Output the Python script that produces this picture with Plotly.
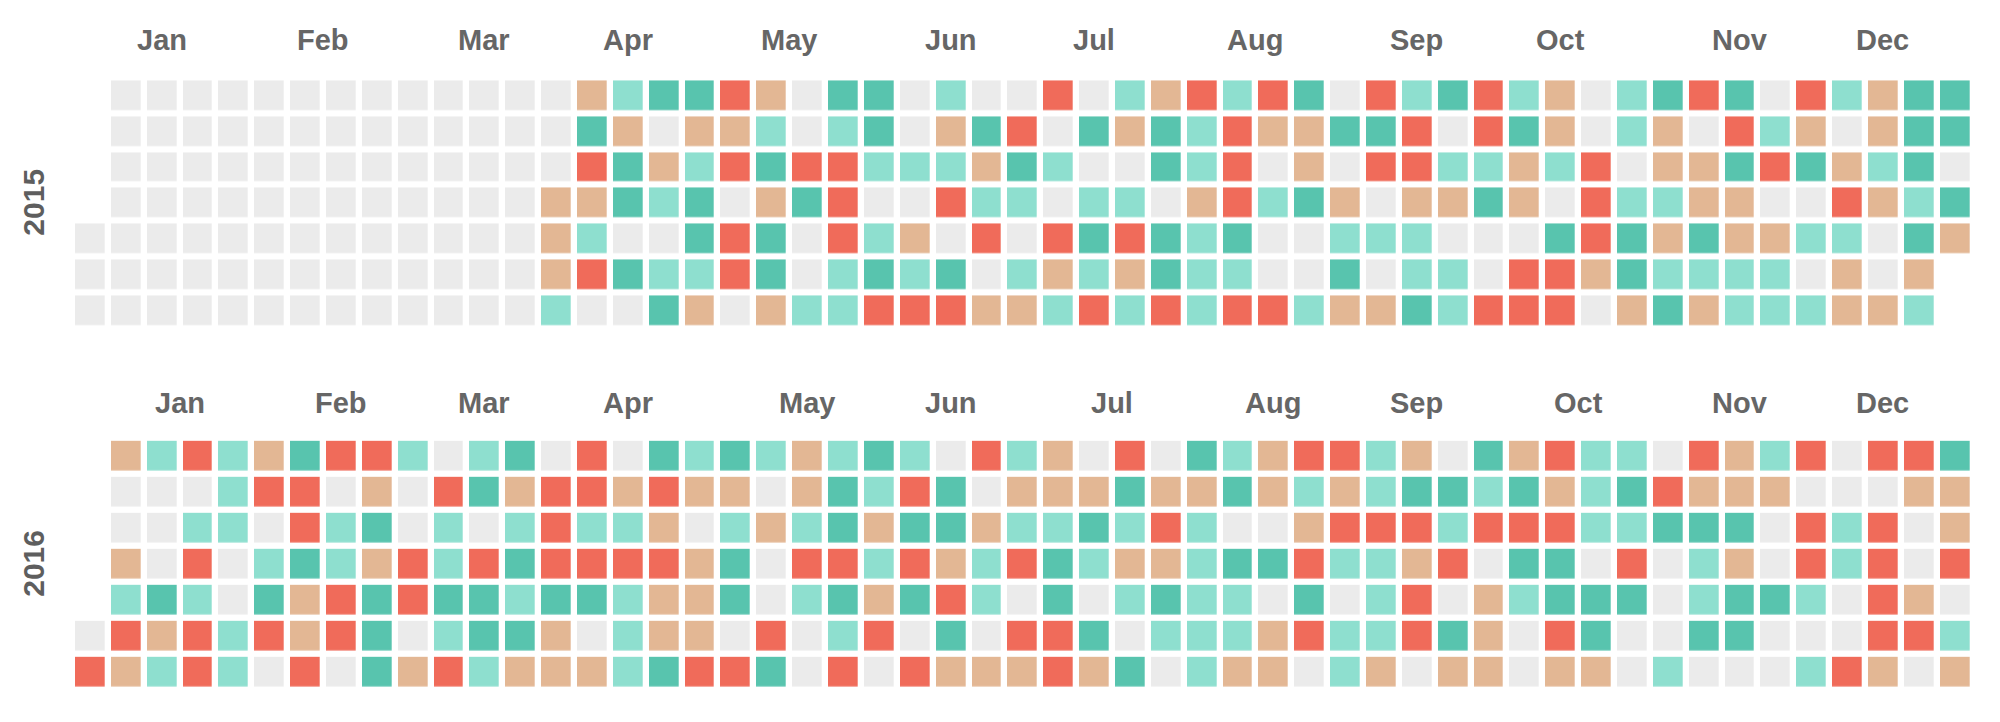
import plotly.graph_objects as go
import pandas as pd

# ---------------- DATA ----------------
# Level codes per day: 0 = grey (no value), 1 = tan, 2 = light teal, 3 = teal, 4 = red
# Each list is one weekday row (Sun..Sat) across the 53 week columns of the year.
N = None
years = [2015, 2016]
month_names = ["Jan", "Feb", "Mar", "Apr", "May", "Jun",
               "Jul", "Aug", "Sep", "Oct", "Nov", "Dec"]
level_colors = ["#ebebeb", "#e3b794", "#8edfcf", "#58c4ae", "#f06b5a"]

y2015_sun = [N] + [0]*11 + [0, 0, 1, 2, 3, 3, 4, 1, 0, 3, 3, 0, 2, 0] + \
    [0, 4, 0, 2, 1, 4, 2, 4, 3, 0, 4, 2, 3, 4] + [2, 1, 0, 2, 3, 4, 3, 0, 4, 2, 1, 3, 3]
y2015_mon = [N] + [0]*11 + [0, 0, 3, 1, 0, 1, 1, 2, 0, 2, 3, 0, 1, 3] + \
    [4, 0, 3, 1, 3, 2, 4, 1, 1, 3, 3, 4, 0, 4] + [3, 1, 0, 2, 1, 0, 4, 2, 1, 0, 1, 3, 3]
y2015_tue = [N] + [0]*11 + [0, 0, 4, 3, 1, 2, 4, 3, 4, 4, 2, 2, 2, 1] + \
    [3, 2, 0, 0, 3, 2, 4, 0, 1, 0, 4, 4, 2, 2] + [1, 2, 4, 0, 1, 1, 3, 4, 3, 1, 2, 3, 0]
y2015_wed = [N] + [0]*11 + [0, 1, 1, 3, 2, 3, 0, 1, 3, 4, 0, 0, 4, 2] + \
    [2, 0, 2, 2, 0, 1, 4, 2, 3, 1, 0, 1, 1, 3] + [1, 0, 4, 2, 2, 1, 1, 0, 0, 4, 1, 2, 3]
y2015_thu = [0]*12 + [0, 1, 2, 0, 0, 3, 4, 3, 0, 4, 2, 1, 0, 4] + \
    [0, 4, 3, 4, 3, 2, 3, 0, 0, 2, 2, 2, 0, 0] + [0, 3, 4, 3, 1, 3, 1, 1, 2, 2, 0, 3, 1]
y2015_fri = [0]*12 + [0, 1, 4, 3, 2, 2, 4, 3, 0, 2, 3, 2, 3, 0] + \
    [2, 1, 2, 1, 3, 2, 2, 0, 0, 3, 0, 2, 2, 0] + [4, 4, 1, 3, 2, 2, 2, 2, 0, 1, 0, 1, N]
y2015_sat = [0]*12 + [0, 2, 0, 0, 3, 1, 0, 1, 2, 2, 4, 4, 4, 1] + \
    [1, 2, 4, 2, 4, 2, 4, 4, 2, 1, 1, 3, 2, 4] + [4, 4, 0, 1, 3, 1, 2, 2, 2, 1, 1, 2, N]

y2016_sun = [N, 1, 2, 4, 2, 1, 3, 4, 4, 2, 0, 2, 3, 0] + [4, 0, 3, 2, 3, 2, 1, 2, 3, 2, 0, 4, 2] + \
    [1, 0, 4, 0, 3, 2, 1, 4, 4, 2, 1, 0, 3] + [1, 4, 2, 2, 0, 4, 1, 2, 4, 0, 4, 4, 3]
y2016_mon = [N, 0, 0, 0, 2, 4, 4, 0, 1, 0, 4, 3, 1, 4] + [4, 1, 4, 1, 1, 0, 1, 3, 2, 4, 3, 0, 1] + \
    [1, 1, 3, 1, 1, 3, 1, 2, 1, 2, 3, 3, 2] + [3, 1, 2, 3, 4, 1, 1, 1, 0, 0, 0, 1, 1]
y2016_tue = [N, 0, 0, 2, 2, 0, 4, 2, 3, 0, 2, 0, 2, 4] + [2, 2, 1, 0, 2, 1, 2, 3, 1, 3, 3, 1, 2] + \
    [2, 3, 2, 4, 2, 0, 0, 1, 4, 4, 4, 2, 4] + [4, 4, 2, 2, 3, 3, 3, 0, 4, 2, 4, 0, 1]
y2016_wed = [N, 1, 0, 4, 0, 2, 3, 2, 1, 4, 2, 4, 3, 4] + [4, 4, 4, 1, 3, 0, 4, 4, 2, 4, 1, 2, 4] + \
    [3, 2, 1, 1, 2, 3, 3, 4, 2, 2, 1, 4, 0] + [3, 3, 0, 4, 0, 2, 1, 0, 4, 2, 4, 0, 4]
y2016_thu = [N, 2, 3, 2, 0, 3, 1, 4, 3, 4, 3, 3, 2, 3] + [3, 2, 1, 1, 3, 0, 2, 3, 1, 3, 4, 2, 0] + \
    [3, 0, 2, 3, 2, 2, 0, 3, 0, 2, 4, 0, 1] + [2, 3, 3, 3, 0, 2, 3, 3, 2, 0, 4, 1, 0]
y2016_fri = [0, 4, 1, 4, 2, 4, 1, 4, 3, 0, 2, 3, 3, 1] + [0, 2, 1, 1, 0, 4, 0, 2, 4, 0, 3, 0, 4] + \
    [4, 3, 0, 2, 2, 2, 1, 4, 2, 2, 4, 3, 1] + [0, 4, 3, 0, 0, 3, 3, 0, 0, 0, 4, 4, 2]
y2016_sat = [4, 1, 2, 4, 2, 0, 4, 0, 3, 1, 4, 2, 1, 1] + [1, 2, 3, 4, 4, 3, 0, 4, 0, 4, 1, 1, 1] + \
    [4, 1, 3, 0, 2, 1, 1, 0, 2, 1, 0, 1, 1] + [0, 1, 1, 0, 2, 0, 0, 0, 2, 4, 1, 0, 1]

grid = {
    2015: [y2015_sun, y2015_mon, y2015_tue, y2015_wed, y2015_thu, y2015_fri, y2015_sat],
    2016: [y2016_sun, y2016_mon, y2016_tue, y2016_wed, y2016_thu, y2016_fri, y2016_sat],
}

# ---------------- FIGURE ----------------
# the page body adds an 8px offset, so the figure is 8px smaller and coordinates are shifted
OFF = 8
W, H = 2000 - OFF, 722 - OFF
FONT = "Liberation Sans, Arial, Helvetica, sans-serif"
TEXT_COLOR = "#666666"

cs = []
n = len(level_colors)
for i, c in enumerate(level_colors):
    lo = 0 if i == 0 else (i - 0.5) / (n - 1)
    hi = 1 if i == n - 1 else (i + 0.5) / (n - 1)
    cs += [[lo, c], [hi, c]]

# screen-pixel geometry of each year's grid (top, bottom)
y_px = {2015: (77.4, 327.9), 2016: (437.8, 689.7)}
label_shift = {2015: 37, 2016: 35}
x_left, x_right = 72.0, 1972.6

fig = go.Figure()
annotations = []
for k, yr in enumerate(years):
    ax = "" if k == 0 else str(k + 1)
    top, bot = (v - OFF for v in y_px[yr])
    fig.add_trace(go.Heatmap(
        z=grid[yr], x=list(range(53)), y=list(range(7)),
        colorscale=cs, zmin=0, zmax=n - 1, showscale=False,
        xgap=6.3, ygap=6.3, hoverinfo="skip",
        xaxis="x" + ax, yaxis="y" + ax,
    ))
    fig.layout["xaxis" + ax] = dict(
        domain=[(x_left - OFF) / W, (x_right - OFF) / W], range=[-0.5, 52.5],
        showgrid=False, zeroline=False, showticklabels=False, ticks="",
        anchor="y" + ax, fixedrange=True,
    )
    fig.layout["yaxis" + ax] = dict(
        domain=[1 - bot / H, 1 - top / H], range=[6.5, -0.5],
        showgrid=False, zeroline=False, showticklabels=False, ticks="",
        anchor="x" + ax, fixedrange=True,
    )
    # month labels centred over the week columns each month spans
    jan1 = pd.Timestamp(f"{yr}-01-01")
    off = (jan1.dayofweek + 1) % 7
    for m in range(12):
        first = pd.Timestamp(year=yr, month=m + 1, day=1)
        last = first + pd.offsets.MonthEnd(0)
        w0 = (first.dayofyear - 1 + off) // 7
        w1 = (last.dayofyear - 1 + off) // 7
        annotations.append(dict(
            x=(w0 + w1) / 2, xref="x" + ax, y=1, yref=f"y{ax} domain",
            yshift=label_shift[yr], yanchor="middle", xanchor="center",
            text=month_names[m], showarrow=False,
            font=dict(family=FONT, size=29, color=TEXT_COLOR, weight="bold"),
        ))
    annotations.append(dict(
        x=(34 - OFF) / W, xref="paper", y=1 - (top + bot) / 2 / H, yref="paper",
        text=str(yr), textangle=-90, showarrow=False,
        xanchor="center", yanchor="middle",
        font=dict(family=FONT, size=30, color="#5e5e5e", weight="bold"),
    ))

fig.update_layout(
    width=W, height=H, margin=dict(l=0, r=0, t=0, b=0),
    paper_bgcolor="white", plot_bgcolor="white",
    annotations=annotations, showlegend=False,
)

fig.write_html("out.html")
